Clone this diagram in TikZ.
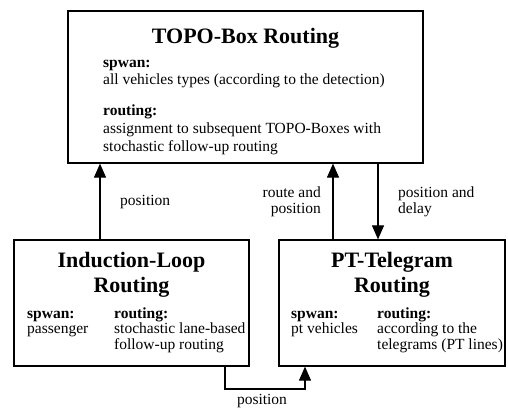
\documentclass[tikz,border=0pt]{standalone}
\usepackage{fontspec}
\setmainfont{Liberation Serif}
\usetikzlibrary{arrows.meta}
\tikzset{
  box/.style={draw, line width=1.2pt, inner sep=0pt},
  ttl/.style={font=\fontsize{22}{26}\selectfont\bfseries, anchor=base, inner sep=0pt},
  txt/.style={font=\fontsize{15.5}{18}\selectfont, anchor=base west, inner sep=0pt},
  hd/.style={txt, font=\fontsize{15.5}{18}\selectfont\bfseries},
  lbl/.style={font=\fontsize{15.5}{18}\selectfont, inner sep=0pt},
  arr/.style={line width=1.1pt, -{Triangle[width=12pt,length=14pt]}}
}
\begin{document}
\begin{tikzpicture}[x=1pt,y=-1pt]
\useasboundingbox (0,0) rectangle (508,408);

% boxes
\node[box, minimum width=355pt, minimum height=152pt] (topo) at (245.5,87) {};
\node[box, minimum width=235pt, minimum height=126pt] (ind) at (131.5,303) {};
\node[box, minimum width=226pt, minimum height=126pt] (pt) at (392,303) {};

% TOPO-Box contents
\node[ttl] (topoT) at (245.5,43) {TOPO-Box Routing};
\node[hd]  (topoS) at (103,67) {spwan:};
\node[txt] (topoS1) at (103,84.5) {all vehicles types (according to the detection)};
\node[hd]  (topoR) at (103,115) {routing:};
\node[txt] (topoR1) at (103,133.5) {assignment to subsequent TOPO-Boxes with};
\node[txt] (topoR2) at (103,151.5) {stochastic follow-up routing};

% Induction-Loop contents
\node[ttl] (indT1) at (131.5,267) {Induction-Loop};
\node[ttl] (indT2) at (131.5,292) {Routing};
\node[hd]  (indS) at (27,318) {spwan:};
\node[txt] (indS1) at (27,333.5) {passenger};
\node[hd]  (indR) at (114,318) {routing:};
\node[txt] (indR1) at (114,333.5) {stochastic lane-based};
\node[txt] (indR2) at (114,349) {follow-up routing};

% PT-Telegram contents
\node[ttl] (ptT1) at (392,267) {PT-Telegram};
\node[ttl] (ptT2) at (392,292) {Routing};
\node[hd]  (ptS) at (291,318) {spwan:};
\node[txt] (ptS1) at (291,333.5) {pt vehicles};
\node[hd]  (ptR) at (377,318) {routing:};
\node[txt] (ptR1) at (377,333.5) {according to the};
\node[txt] (ptR2) at (377,349) {telegrams (PT lines)};

% connector positions
\coordinate (xa) at (100,0);
\coordinate (xb) at (333,0);
\coordinate (xc) at (378,0);
\coordinate (c1) at (225,389);
\coordinate (c2) at (305,389);

\draw[arr] (ind.north -| xa) -- (topo.south -| xa);
\draw[arr] (pt.north -| xb) -- (topo.south -| xb);
\draw[arr] (topo.south -| xc) -- (pt.north -| xc);
\draw[arr] (ind.south -| c1) -- (c1) -- (c2) -- (pt.south -| c2);

% connector labels
\node[lbl, anchor=base west] (l1) at (120,205) {position};
\node[lbl, anchor=base east] (l2a) at (321,197) {route and};
\node[lbl, anchor=base east] (l2b) at (321,213) {position};
\node[lbl, anchor=base west] (l3a) at (398,197) {position and};
\node[lbl, anchor=base west] (l3b) at (398,213) {delay};
\node[lbl, anchor=base] (l4) at (262,404) {position};
\end{tikzpicture}
\end{document}
